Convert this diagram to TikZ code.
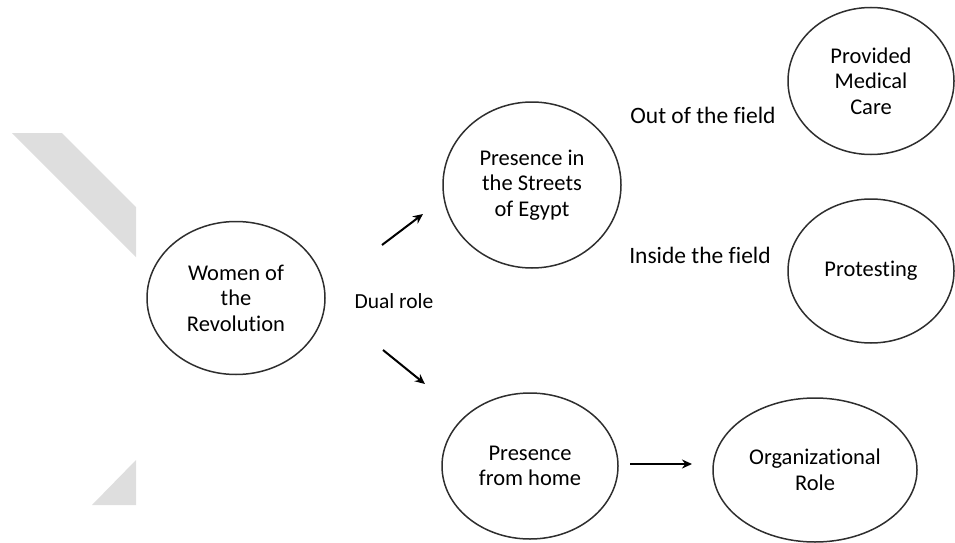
\documentclass[tikz,border=0pt]{standalone}
\usepackage{fontspec}
\setmainfont[Ligatures={NoCommon}]{Carlito}
\usetikzlibrary{shapes.geometric,arrows.meta}
\definecolor{markgray}{HTML}{DEDEDE}
\definecolor{rimgray}{HTML}{2E2E2E}
\tikzset{
  bubble/.style={ellipse, draw=rimgray, line width=1.5pt, inner sep=0pt,
    align=center, font=\fontsize{22.5}{25.5}\selectfont},
  tag/.style={inner sep=0pt, font=\fontsize{21.5}{25.5}\selectfont},
  fieldtag/.style={inner sep=0pt, font=\fontsize{23.5}{28}\selectfont},
  link/.style={line width=2pt, -{Stealth[length=10pt,width=9pt]}}
}
\begin{document}
\begin{tikzpicture}[x=1pt,y=-1pt]
\path[use as bounding box] (0,0) rectangle (955,543);
% faint chevron in the background
\fill[markgray] (12,133) -- (62,133) -- (136,207) -- (136,257) -- cycle;
\fill[markgray] (136,460) -- (136,505) -- (92,505) -- cycle;

% bubbles
\node[bubble, minimum width=178pt, minimum height=153pt] (women) at (236,298)
  {Women of\\the\\Revolution};
\node[bubble, minimum width=178pt, minimum height=166pt] (streets) at (532,185)
  {Presence in\\the Streets\\of Egypt};
\node[bubble, minimum width=166pt, minimum height=147pt] (medical) at (871,81)
  {Provided\\Medical\\Care};
\node[bubble, minimum width=166pt, minimum height=144pt] (protest) at (871,271)
  {Protesting};
\node[bubble, minimum width=176pt, minimum height=146pt] (home) at (530,466)
  {Presence\\from home};
\node[bubble, minimum width=204pt, minimum height=144pt] (org) at (815,470)
  {Organizational\\Role};

% labels
\node[tag] (dual) at (394,301) {Dual role};
\node[fieldtag] (outf) at (703,115) {Out of the field};
\node[fieldtag] (inf) at (700,255) {Inside the field};

% arrow ends
\coordinate (upA) at (382,245);
\coordinate (upB) at (423,214);
\coordinate (dnA) at (383,350);
\coordinate (dnB) at (425,384);
\coordinate (hzA) at (630,464);
\coordinate (hzB) at (692,464);

\draw[link] (upA) -- (upB);
\draw[link] (dnA) -- (dnB);
\draw[link] (hzA) -- (hzB);
\end{tikzpicture}
\end{document}
